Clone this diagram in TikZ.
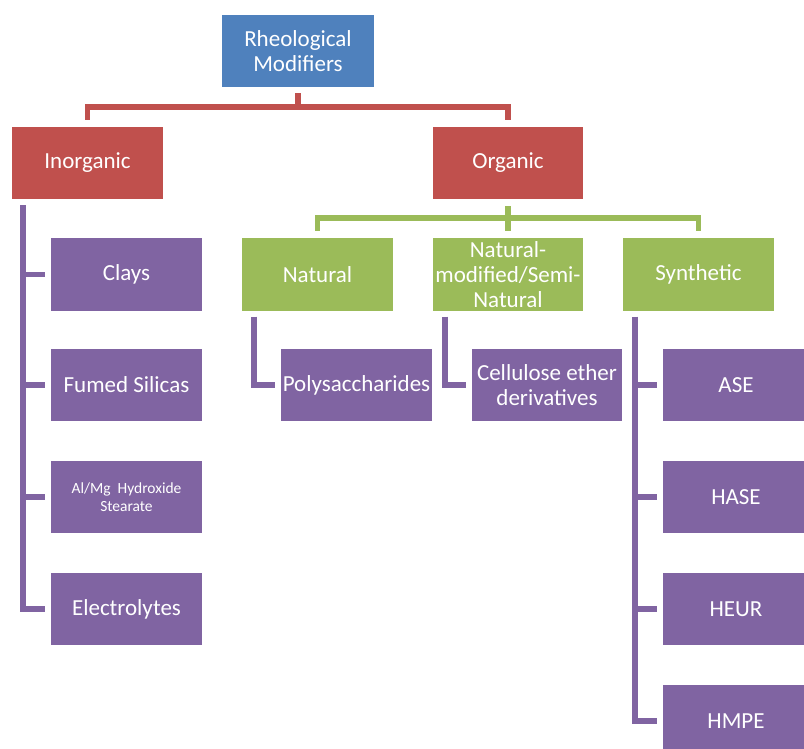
\documentclass[tikz,border=0pt]{standalone}
\usepackage{fontspec}
\setmainfont{Carlito}
\usetikzlibrary{calc}
\definecolor{cblue}{HTML}{4F81BD}
\definecolor{cred}{HTML}{C0504D}
\definecolor{cgreen}{HTML}{9BBB59}
\definecolor{cpurple}{HTML}{8064A2}
\tikzset{
  box/.style={inner sep=0pt, minimum height=72pt, text=white, align=center,
    font=\fontsize{23}{25}\selectfont},
  bluebox/.style={box, fill=cblue, minimum width=152pt},
  redbox/.style={box, fill=cred, minimum width=151pt},
  greenbox/.style={box, fill=cgreen, minimum width=151pt},
  purplebox/.style={box, fill=cpurple, minimum width=151pt},
  conn/.style={line width=5.5pt},
  redline/.style={conn, draw=cred},
  greenline/.style={conn, draw=cgreen},
  purpline/.style={conn, draw=cpurple},
}
\begin{document}
\begin{tikzpicture}[x=1pt,y=1pt]
\useasboundingbox (0,0) rectangle (804,-749);
\clip (0,0) rectangle (804,-749);
\fill[white] (0,0) rectangle (804,-749);

% nodes
\node[bluebox] (root) at (298,-51) {Rheological\\Modifiers};
\node[redbox] (inorg) at (87.5,-163) {Inorganic};
\node[redbox, minimum width=150pt] (org) at (508,-163) {Organic};
\node[greenbox] (natural) at (317.5,-274.5) {Natural};
\node[greenbox, minimum width=150pt] (semi) at (508,-274.5) {Natural-\\modified/Semi-\\Natural};
\node[greenbox] (synth) at (698.5,-274.5) {Synthetic};

\node[purplebox] (clays) at (126.5,-274.5) {Clays};
\node[purplebox] (fumed) at (126.5,-385) {Fumed Silicas};
\node[purplebox, font=\fontsize{15.5}{18}\selectfont] (almg) at (126.5,-497) {Al/Mg\ \ Hydroxide\\Stearate};
\node[purplebox] (elec) at (126.5,-609) {Electrolytes};

\node[purplebox] (poly) at (356.5,-385) {Polysaccharides};
\node[purplebox, minimum width=150pt] (cell) at (547,-385) {Cellulose ether\\derivatives};

\node[purplebox, minimum width=146pt] (ase) at (736,-385) {ASE};
\node[purplebox, minimum width=146pt] (hase) at (736,-497) {HASE};
\node[purplebox, minimum width=146pt] (heur) at (736,-609) {HEUR};
\node[purplebox, minimum width=146pt] (hmpe) at (736,-721) {HMPE};

% red connectors
\coordinate (rj) at ($(root.south)+(0,-20)$);
\draw[redline] ([yshift=-6pt]root.south) -- (rj);
\draw[redline] (rj) -| ([yshift=7pt]inorg.north);
\draw[redline] (rj) -| ([yshift=7pt]org.north);

% green connectors
\coordinate (gj) at ($(org.south)+(0,-19)$);
\draw[greenline] ([yshift=-7pt]org.south) -- ([yshift=7pt]semi.north);
\draw[greenline] (gj) -| ([yshift=7pt]natural.north);
\draw[greenline] (gj) -| ([yshift=7pt]synth.north);

% inorganic children
\coordinate (ti) at ([xshift=11pt,yshift=-6pt]inorg.south west);
\draw[purpline] (ti) |- ([xshift=-6pt]elec.west);
\draw[purpline] (ti |- clays.west) -- ([xshift=-6pt]clays.west);
\draw[purpline] (ti |- fumed.west) -- ([xshift=-6pt]fumed.west);
\draw[purpline] (ti |- almg.west) -- ([xshift=-6pt]almg.west);

% natural child
\coordinate (tn) at ([xshift=12pt,yshift=-6pt]natural.south west);
\draw[purpline] (tn) |- ([xshift=-6pt]poly.west);

% semi-natural child
\coordinate (ts) at ([xshift=12pt,yshift=-6pt]semi.south west);
\draw[purpline] (ts) |- ([xshift=-6pt]cell.west);

% synthetic children
\coordinate (ty) at ([xshift=12pt,yshift=-6pt]synth.south west);
\draw[purpline] (ty) |- ([xshift=-6pt]hmpe.west);
\draw[purpline] (ty |- ase.west) -- ([xshift=-6pt]ase.west);
\draw[purpline] (ty |- hase.west) -- ([xshift=-6pt]hase.west);
\draw[purpline] (ty |- heur.west) -- ([xshift=-6pt]heur.west);
\end{tikzpicture}
\end{document}
